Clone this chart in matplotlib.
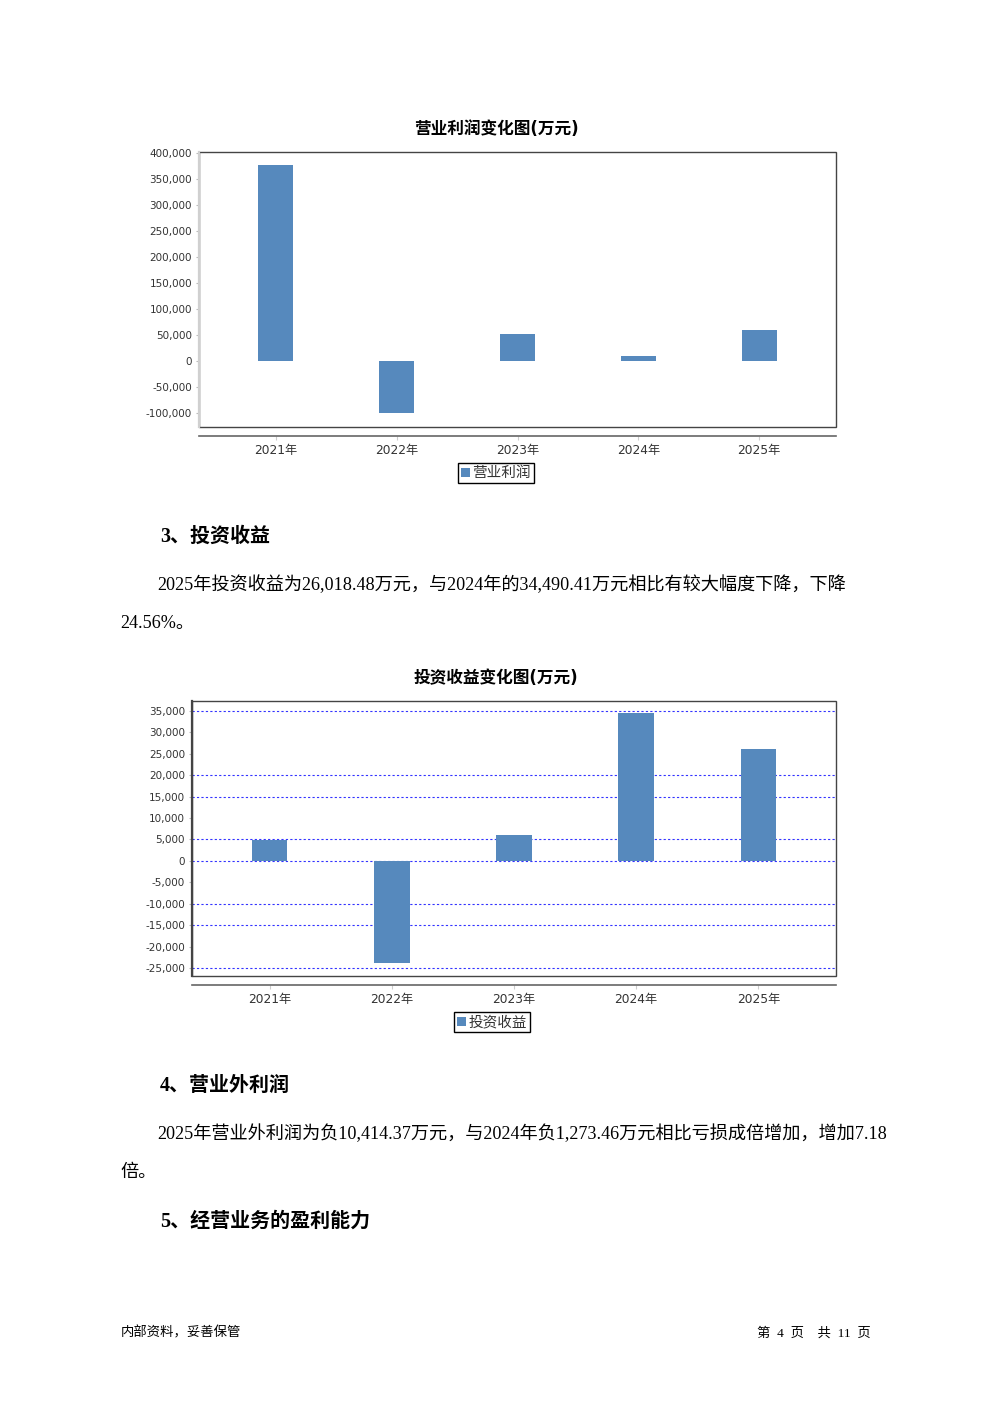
import matplotlib
matplotlib.use('Agg')
import matplotlib.pyplot as plt
from matplotlib.patches import Rectangle
from matplotlib.ticker import FuncFormatter

# 数据
years = ['2021年', '2022年', '2023年', '2024年', '2025年']
op_profit = [377000, -101000, 51300, 10400, 59600]      # 营业利润(万元)
invest_income = [4900, -23900, 6100, 34490.41, 26018.48]  # 投资收益(万元)

op_ticks = [400000, 350000, 300000, 250000, 200000, 150000, 100000, 50000, 0, -50000, -100000]
inv_ticks = [35000, 30000, 25000, 20000, 15000, 10000, 5000, 0, -5000, -10000, -15000, -20000, -25000]
inv_grid = [35000, 20000, 15000, 5000, 0, -10000, -15000, -25000]

W, H = 992, 1403
bar_color = '#5689bd'
cjk = ['DejaVu Sans', 'Noto Sans CJK SC']
body = ['Liberation Serif', 'Noto Sans CJK SC']
plt.rcParams['font.family'] = cjk

fig = plt.figure(figsize=(W / 100, H / 100), dpi=100)


def box(x0, y0, x1, y1):
    # 像素坐标 -> figure 坐标
    return [x0 / W, 1 - y1 / H, (x1 - x0) / W, (y1 - y0) / H]


def ptext(x, y, s, **kw):
    fig.text(x / W, 1 - y / H, s, va='center', **kw)


def bar_chart(rect, values, ticks, ylim, title, title_y, label, left_color, grid=None):
    ax = fig.add_axes(rect)
    x = list(range(len(years)))
    if grid is not None:
        for g in grid:
            ax.axhline(g, color='#3333ff', lw=0.8, dashes=(2, 2), zorder=1)
    ax.bar(x, values, width=0.29, color=bar_color, zorder=2, label=label)
    ax.set_xlim(-0.635, 4.635)
    ax.set_ylim(*ylim)
    ax.set_yticks(ticks)
    ax.yaxis.set_major_formatter(FuncFormatter(lambda v, p: f'{int(v):,}'))
    ax.set_xticks(x)
    ax.set_xticklabels(years)
    ax.tick_params(axis='y', labelsize=7.5, labelcolor='#333333', length=2,
                   color='#bbbbbb', pad=3)
    ax.tick_params(axis='x', labelsize=8.8, labelcolor='#333333', length=3,
                   color='#cccccc', pad=2.5)
    for s in ['top', 'right', 'left']:
        ax.spines[s].set_visible(False)
    ax.spines['bottom'].set_position(('outward', 6.5))
    ax.spines['bottom'].set_color('#666666')
    ax.spines['bottom'].set_linewidth(1.2)
    ax.add_patch(Rectangle((0, 0), 1, 1, transform=ax.transAxes, fill=False,
                           edgecolor='#444444', lw=1.0, clip_on=False, zorder=5))
    ax.plot([0, 0], [0, 1], transform=ax.transAxes, color=left_color, lw=1.6,
            clip_on=False, zorder=6)
    ptext(496, title_y, title, ha='center', fontsize=12, fontweight='bold')
    leg = ax.legend(loc='center', bbox_to_anchor=(0.466, -0.167),
                    prop={'size': 10.5}, handlelength=0.6,
                    handleheight=0.6, handletextpad=0.2, borderpad=0.2,
                    fancybox=False, framealpha=1, edgecolor='black')
    leg.get_frame().set_linewidth(1.0)
    for t in leg.get_texts():
        t.set_color('#333333')
    return ax


bar_chart(box(199, 152, 836, 427), op_profit, op_ticks, (-127000, 402000),
          '营业利润变化图(万元)', 129, '营业利润', '#d0d0d0')
bar_chart(box(192, 701, 836, 976), invest_income, inv_ticks, (-26870, 37330),
          '投资收益变化图(万元)', 678, '投资收益', '#444444', grid=inv_grid)

# 正文
ptext(160, 537, '3、投资收益', fontfamily=body, fontsize=14.4, fontweight='bold')
ptext(157, 585, '2025年投资收益为26,018.48万元，与2024年的34,490.41万元相比有较大幅度下降，下降',
      fontfamily=body, fontsize=13.1)
ptext(120, 623, '24.56%。', fontfamily=body, fontsize=13.1)
ptext(160, 1086, '4、营业外利润', fontfamily=body, fontsize=14.4, fontweight='bold')
ptext(157, 1134, '2025年营业外利润为负10,414.37万元，与2024年负1,273.46万元相比亏损成倍增加，增加7.18',
      fontfamily=body, fontsize=13.1)
ptext(120, 1172, '倍。', fontfamily=body, fontsize=13.1)
ptext(160, 1222, '5、经营业务的盈利能力', fontfamily=body, fontsize=14.4, fontweight='bold')

# 页脚
ptext(121, 1333, '内部资料，妥善保管', fontfamily=body, fontsize=9.6)
fig.text(871 / W, 1 - 1333 / H, '第  4  页    共  11  页', va='center', ha='right',
         fontfamily=body, fontsize=9.6)

fig.savefig('out.png', dpi=100, facecolor='white')
